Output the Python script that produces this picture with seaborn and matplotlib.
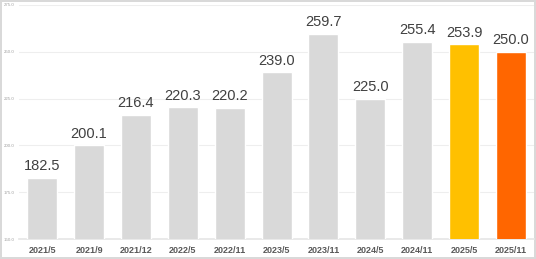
import matplotlib
matplotlib.use("Agg")
import matplotlib.pyplot as plt
import seaborn as sns
import pandas as pd

categories = ["2021/5", "2021/9", "2021/12", "2022/5", "2022/11", "2023/5",
              "2023/11", "2024/5", "2024/11", "2025/5", "2025/11"]
values = [182.5, 200.1, 216.4, 220.3, 220.2, 239.0, 259.7, 225.0, 255.4, 253.9, 250.0]
colors = ["#d9d9d9"] * 9 + ["#ffc000", "#ff6600"]
yticks = [150, 175, 200, 225, 250, 275]

sns.set_theme(style="white")
plt.rcParams['font.family'] = ['Liberation Sans', 'DejaVu Sans']

df = pd.DataFrame({"cat": categories, "val": values})

fig = plt.figure(figsize=(5.36, 2.59), dpi=100, facecolor="white",
                 edgecolor="#d9d9d9", linewidth=1.5)
ax = fig.add_axes([0.035, 0.077, 0.962, 0.904])
sns.barplot(data=df, x="cat", y="val", hue="cat", palette=colors, legend=False,
            width=0.64, saturation=1, ax=ax, zorder=3)

ax.set_ylim(150, 275)
ax.set_yticks(yticks)
ax.set_yticklabels([f"{t:.1f}" for t in yticks], fontsize=3.2, color="#a0a0a0")
ax.grid(axis="y", color="#eeeeee", linewidth=0.8, zorder=0)
ax.set_xlabel("")
ax.set_ylabel("")
for s in ["top", "right", "left"]:
    ax.spines[s].set_visible(False)
ax.spines["bottom"].set_color("#e6e6e6")
ax.tick_params(axis="y", length=0, pad=3)
ax.tick_params(axis="x", length=0, pad=5)
for lbl in ax.get_xticklabels():
    lbl.set_fontsize(6.5)
    lbl.set_fontweight("bold")
    lbl.set_color("#595959")

for i, v in enumerate(values):
    ax.text(i, v + 2.5, f"{v:.1f}", ha="center", va="bottom", fontsize=10.5, color="#404040")

fig.savefig("out.png", dpi=100, facecolor="white", edgecolor=fig.get_edgecolor())
